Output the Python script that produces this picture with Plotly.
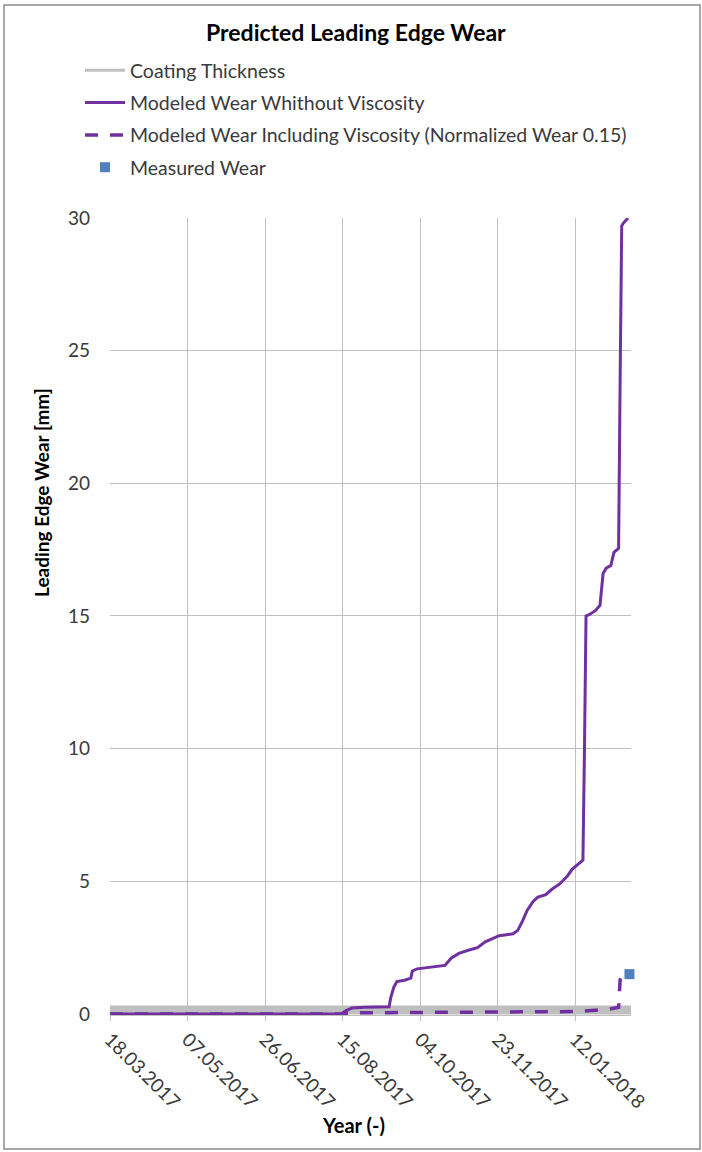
import plotly.graph_objects as go

# ---- data ----
wear_dates = [
    "2017-03-18", "2017-08-14", "2017-08-17", "2017-08-21", "2017-08-29",
    "2017-09-14", "2017-09-15", "2017-09-17", "2017-09-19", "2017-09-24",
    "2017-09-28", "2017-09-29", "2017-10-02", "2017-10-10", "2017-10-20",
    "2017-10-24", "2017-10-29", "2017-11-04", "2017-11-10", "2017-11-15",
    "2017-11-20", "2017-11-24", "2017-12-03", "2017-12-06", "2017-12-09",
    "2017-12-12", "2017-12-16", "2017-12-19", "2017-12-24", "2017-12-28",
    "2018-01-02", "2018-01-07", "2018-01-10", "2018-01-15", "2018-01-17",
    "2018-01-18", "2018-01-19", "2018-01-21", "2018-01-25", "2018-01-28",
    "2018-01-30", "2018-02-01", "2018-02-04", "2018-02-06", "2018-02-09",
    "2018-02-10", "2018-02-11", "2018-02-12", "2018-02-15",
]
wear_no_visc = [
    0.0, 0.0, 0.12, 0.22, 0.25,
    0.27, 0.6, 1.0, 1.22, 1.27,
    1.35, 1.62, 1.7, 1.76, 1.83,
    2.1, 2.28, 2.4, 2.5, 2.72,
    2.85, 2.95, 3.02, 3.15, 3.5,
    3.9, 4.25, 4.4, 4.5, 4.7,
    4.9, 5.2, 5.45, 5.7, 5.8,
    10.0, 15.0, 15.05, 15.2, 15.4,
    16.6, 16.8, 16.9, 17.4, 17.55,
    24.0, 29.7, 29.8, 30.0,
]

visc_dates = [
    "2017-03-18", "2017-08-14", "2017-08-19", "2017-10-04", "2017-11-24",
    "2018-01-12", "2018-01-25", "2018-02-03", "2018-02-09", "2018-02-10",
    "2018-02-11", "2018-02-12",
]
wear_with_visc = [
    0.0, 0.0, 0.04, 0.05, 0.07,
    0.09, 0.14, 0.18, 0.25, 1.3,
    1.4, 1.5,
]

coating_dates = ["2017-03-18", "2018-02-17"]
coating_thickness = [0.15, 0.15]

measured_dates = ["2018-02-16"]
measured_wear = [1.5]

x_range = ["2017-03-18", "2018-02-17"]
y_range = [-0.04, 30]

# ---- layout geometry (pixels) ----
W, H = 702, 1152
L, R, T, B = 110, 71, 218, 137
PW, PH = W - L - R, H - T - B


def px_x(x):
    return (x - L) / PW


def px_y(y):
    return 1 - (y - T) / PH


PURPLE = "#7030a0"
GREY = "#bfbfbf"
FONT = "Lato"
TXT = "#3a3a3a"

fig = go.Figure()

# coating thickness band
fig.add_trace(go.Scatter(
    x=coating_dates, y=coating_thickness, mode="lines",
    line=dict(color=GREY, width=9), showlegend=False, hoverinfo="skip",
))
fig.add_trace(go.Scatter(
    x=[None], y=[None], mode="lines", name="Coating Thickness",
    line=dict(color=GREY, width=3), legendgroup="a",
))
fig.add_trace(go.Scatter(
    x=wear_dates, y=wear_no_visc, mode="lines",
    name="Modeled Wear Whithout Viscosity",
    line=dict(color=PURPLE, width=3), legendgroup="b",
))
fig.add_trace(go.Scatter(
    x=visc_dates, y=wear_with_visc, mode="lines",
    name="Modeled Wear Including Viscosity (Normalized Wear 0.15)",
    line=dict(color=PURPLE, width=3.5, dash="13px,12px"), legendgroup="c",
))
fig.add_trace(go.Scatter(
    x=measured_dates, y=measured_wear, mode="markers", name="Measured Wear",
    marker=dict(symbol="square", size=10, color="#4f81bd"),
    legendgroup="d", cliponaxis=False,
))

fig.update_layout(
    width=W, height=H,
    margin=dict(l=L, r=R, t=T, b=B),
    paper_bgcolor="white", plot_bgcolor="white",
    font=dict(family=FONT, size=18, color=TXT),
    showlegend=True,
    legend=dict(
        x=px_x(80), y=px_y(51), xanchor="left", yanchor="top",
        traceorder="grouped", tracegroupgap=4, itemwidth=40,
        font=dict(family=FONT, size=19.5, color=TXT),
        bgcolor="rgba(0,0,0,0)",
    ),
    xaxis=dict(
        type="date", range=x_range,
        tick0="2017-03-18", dtick=50 * 86400000,
        tickformat="%d.%m.%Y", tickangle=45,
        showgrid=True, gridcolor=GREY, gridwidth=1,
        showline=True, linecolor=GREY, linewidth=1,
        ticks="outside", ticklen=5, tickcolor=GREY,
        tickfont=dict(size=19, color=TXT),
        zeroline=False,
    ),
    yaxis=dict(
        range=y_range, tick0=0, dtick=5,
        showgrid=True, gridcolor=GREY, gridwidth=1,
        showline=False, zeroline=False, ticks="",
        ticklabelstandoff=19,
        tickfont=dict(size=19, color=TXT),
    ),
    annotations=[
        dict(text="<b>Predicted Leading Edge Wear</b>", xref="paper", yref="paper",
             x=px_x(356), y=px_y(32), xanchor="center", yanchor="middle",
             showarrow=False, font=dict(family=FONT, size=23, color="black")),
        dict(text="<b>Leading Edge Wear [mm]</b>", xref="paper", yref="paper",
             x=px_x(42), y=px_y(493), xanchor="center", yanchor="middle",
             textangle=-90, showarrow=False,
             font=dict(family=FONT, size=19, color="black")),
        dict(text="<b>Year (-)</b>", xref="paper", yref="paper",
             x=px_x(353), y=px_y(1125), xanchor="center", yanchor="middle",
             showarrow=False, font=dict(family=FONT, size=20, color="black")),
    ],
    shapes=[
        dict(type="rect", xref="paper", yref="paper",
             x0=px_x(4), x1=px_x(700), y0=px_y(1149), y1=px_y(5),
             line=dict(color="#8c8c8c", width=1.5), fillcolor="rgba(0,0,0,0)"),
    ],
)

fig.write_html("out.html")
